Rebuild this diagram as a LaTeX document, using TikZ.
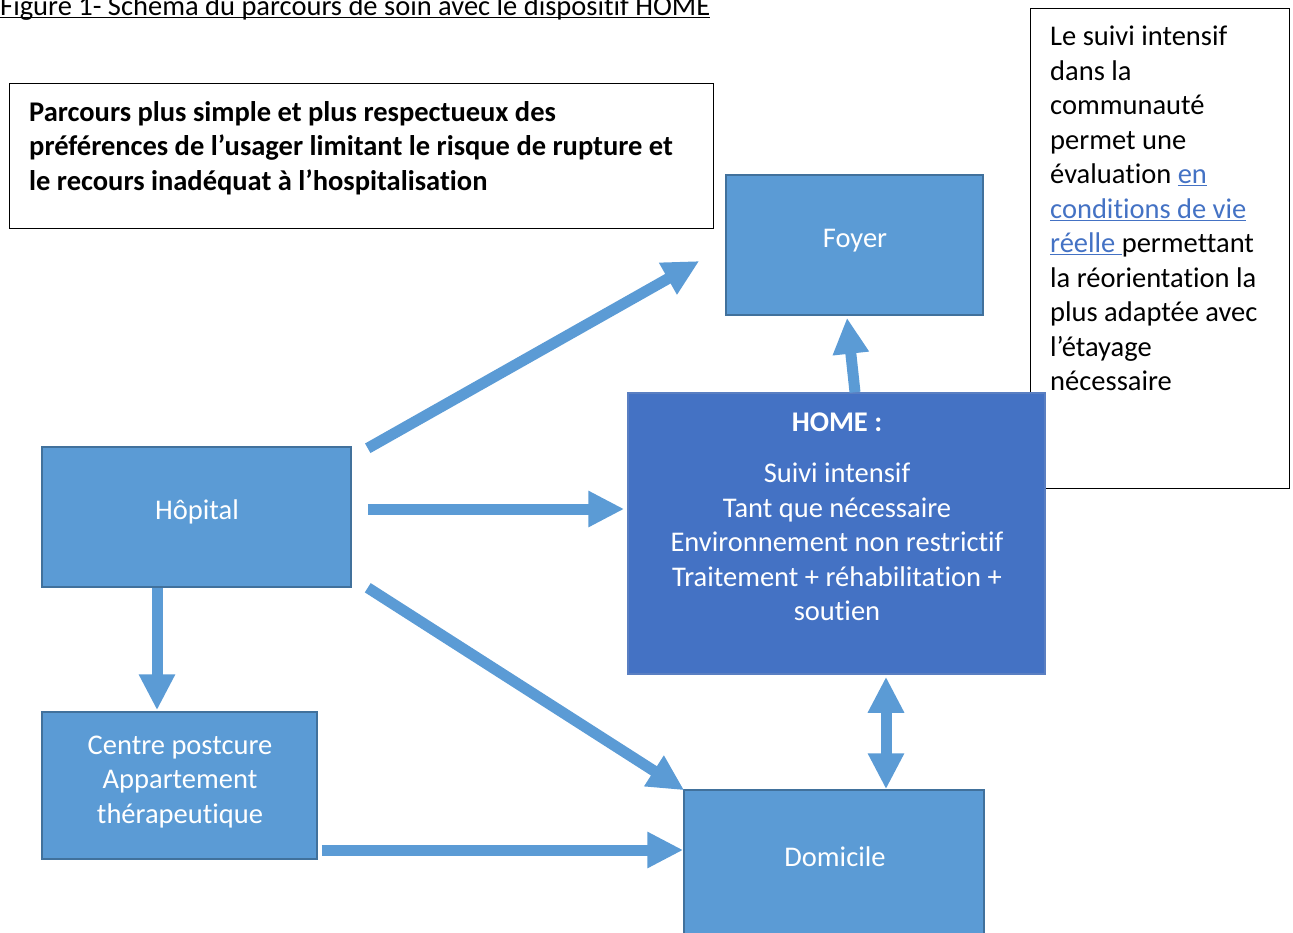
\documentclass[tikz,border=0pt]{standalone}
\usepackage{fontspec}
\setmainfont{Carlito}[Ligatures=NoCommon]
\usepackage{tikz}
\usetikzlibrary{positioning,arrows.meta}
\definecolor{boxblue}{HTML}{5B9BD5}
\definecolor{boxedge}{HTML}{41719C}
\definecolor{homeblue}{HTML}{4472C4}
\definecolor{homeedge}{HTML}{5A7FC2}
\definecolor{linkblue}{HTML}{4472C4}
\tikzset{
  bluebox/.style={rectangle, fill=boxblue, draw=boxedge, line width=1.5pt, inner sep=0pt},
  homebox/.style={rectangle, fill=homeblue, draw=homeedge, line width=1.5pt, inner sep=0pt},
  notebox/.style={rectangle, draw=black, line width=1pt, inner sep=0pt},
  boxtext/.style={text=white, align=center, font=\fontsize{28.5}{34.5}\selectfont},
  notetext/.style={text=black, align=left, font=\fontsize{28.5}{34.5}\selectfont, inner sep=0pt},
  fatarrow/.style={draw=boxblue, line width=11pt, -{Triangle[length=36pt,width=34pt]}},
}
\newcommand{\linktxt}[1]{\textcolor{linkblue}{\underline{#1}}}
\begin{document}
\begin{tikzpicture}[x=1pt,y=-1pt]
\useasboundingbox (0,0) rectangle (1293,932);
\clip (0,0) rectangle (1293,932);

\node[notetext, anchor=base west] (title) at (0,15.5) {\underline{\smash{Figure 1- Schéma du parcours de soin avec le dispositif HOME}}};

\node[notebox, minimum width=704pt, minimum height=145pt] (resume) at (361,155.5) {};
\node[notetext, anchor=north west, font=\bfseries\fontsize{28.5}{34.5}\selectfont] (resumetxt) at (29,101)
  {Parcours plus simple et plus respectueux des\\
   préférences de l’usager limitant le risque de rupture et\\
   le recours inadéquat à l’hospitalisation};

\node[notebox, minimum width=259pt, minimum height=480pt] (note) at (1159.5,248) {};
\node[notetext, anchor=north west] (notetxt) at (1050,26)
  {Le suivi intensif\\
   dans la\\
   communauté\\
   permet une\\
   évaluation \linktxt{en}\\
   \linktxt{conditions de vie}\\
   \linktxt{réelle }permettant\\
   la réorientation la\\
   plus adaptée avec\\
   l’étayage\\
   nécessaire};

\node[bluebox, minimum width=257pt, minimum height=140pt] (foyer) at (854.5,245) {};
\node[boxtext] at (855,241) {Foyer};

\node[homebox, minimum width=417pt, minimum height=281pt] (home) at (836.5,533.5) {};
\node[boxtext] (hometxt) at (837,517)
  {\textbf{HOME :}\\[16pt]
   Suivi intensif\\
   Tant que nécessaire\\
   Environnement non restrictif\\
   Traitement + réhabilitation +\\
   soutien};

\node[bluebox, minimum width=309pt, minimum height=140pt] (hopital) at (196.5,517) {};
\node[boxtext] at (197,512) {Hôpital};

\node[bluebox, minimum width=275pt, minimum height=147pt] (centre) at (179.5,785.5) {};
\node[boxtext] at (180,782) {Centre postcure\\Appartement\\thérapeutique};

\node[bluebox, minimum width=300pt, minimum height=160pt] (domicile) at (834,870) {};
\node[boxtext] at (835,857) {Domicile};

\draw[fatarrow] ([shift={(16,2)}]hopital.north east) -- ([shift={(-26,16)}]foyer.west);
\draw[fatarrow] ([shift={(16,-8)}]hopital.east) -- ([shift={(-3,-24.5)}]home.west);
\draw[fatarrow] ([shift={(16,0)}]hopital.south east) -- ([shift={(1,1)}]domicile.north west);
\draw[fatarrow] ([shift={(-39.5,0)}]hopital.south) -- ([shift={(-22.5,-1)}]centre.north);
\draw[fatarrow] ([shift={(4,64.5)}]centre.east) -- ([shift={(0,-20)}]domicile.west);
\draw[fatarrow] ([shift={(18.5,0)}]home.north) -- ([shift={(-7.5,2)}]foyer.south);
\draw[fatarrow, {Triangle[length=36pt,width=34pt]}-{Triangle[length=36pt,width=34pt]}] ([shift={(49.5,2)}]home.south) -- ([shift={(52,0)}]domicile.north);
\end{tikzpicture}
\end{document}
